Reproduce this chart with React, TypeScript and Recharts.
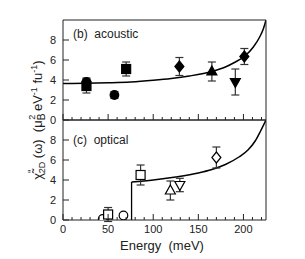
import React from "react";
import { ComposedChart, Scatter, Line, XAxis, YAxis, ErrorBar } from "recharts";

const FONT = '"Liberation Sans", Arial, sans-serif';

// x ticks every 10 meV, labelled every 50
const X_TICKS = [0, 10, 20, 30, 40, 50, 60, 70, 80, 90, 100, 110, 120, 130, 140, 150, 160, 170, 180, 190, 200, 210, 220];
const X_LABELLED = [0, 50, 100, 150, 200];
const Y_TICKS = [0, 2, 4, 6, 8];

// (b) acoustic - filled symbols
const acCircle = [
  { e: 26, v: 3.8, err: 0.4 },
  { e: 57, v: 2.5, err: 0.35 },
];
const acSquare = [
  { e: 26, v: 3.4, err: 0.7 },
  { e: 70, v: 5.1, err: 0.7 },
];
const acDiamond = [
  { e: 129, v: 5.35, err: 0.9 },
  { e: 201, v: 6.35, err: 0.8 },
];
const acTriUp = [{ e: 165, v: 4.85, err: 0.95 }];
const acTriDown = [{ e: 191, v: 3.8, err: 1.3 }];
const acCurve = [
  { e: 0, v: 3.65 }, { e: 25, v: 3.67 }, { e: 50, v: 3.72 }, { e: 75, v: 3.8 },
  { e: 100, v: 3.97 }, { e: 120, v: 4.15 }, { e: 140, v: 4.4 }, { e: 165, v: 4.85 },
  { e: 180, v: 5.3 }, { e: 190, v: 5.75 }, { e: 201, v: 6.35 }, { e: 211, v: 7.3 },
  { e: 218, v: 8.3 }, { e: 222, v: 9.1 }, { e: 225, v: 10 },
];

// (c) optical - open symbols
const opCircle = [
  { e: 44, v: 0.1, err: 0 },
  { e: 67, v: 0.45, err: 0 },
];
const opSquare = [
  { e: 50, v: 0.55, err: 0.7 },
  { e: 86, v: 4.5, err: 1.0 },
];
const opTriUp = [{ e: 119, v: 2.95, err: 0.95 }];
const opTriDown = [{ e: 129.5, v: 3.5, err: 0.67 }];
const opDiamond = [{ e: 170, v: 6.25, err: 1.05 }];
const opStep = [{ e: 76, v: 0 }, { e: 76, v: 3.8 }];
const opCurve = [
  { e: 76, v: 3.8 }, { e: 100, v: 4.0 }, { e: 125, v: 4.3 }, { e: 150, v: 4.7 },
  { e: 165, v: 5.05 }, { e: 180, v: 5.55 }, { e: 195, v: 6.3 }, { e: 205, v: 7.0 },
  { e: 213, v: 7.9 }, { e: 219, v: 8.9 }, { e: 225, v: 10 },
];

const marker = (kind: string, filled: boolean) => (p: any) => {
  const { cx, cy } = p;
  const fill = filled ? "#000" : "#fff";
  const common = { fill, stroke: "#000", strokeWidth: 1.2 };
  if (kind === "circle") return <circle cx={cx} cy={cy} r={4.3} {...common} />;
  if (kind === "square") return <rect x={cx - 4.5} y={cy - 4.5} width={9} height={9} {...common} />;
  if (kind === "diamond")
    return <polygon points={`${cx},${cy - 5.5} ${cx + 4.5},${cy} ${cx},${cy + 5.5} ${cx - 4.5},${cy}`} {...common} />;
  if (kind === "up")
    return <polygon points={`${cx},${cy - 5.5} ${cx + 5},${cy + 3.5} ${cx - 5},${cy + 3.5}`} {...common} />;
  return <polygon points={`${cx},${cy + 5.5} ${cx + 5},${cy - 3.5} ${cx - 5},${cy - 3.5}`} {...common} />;
};

const AX = "#222";
const txt = { fontSize: 11, fill: AX, fontFamily: FONT, stroke: "none" };

// inward ticks, drawn from the axis positions recharts hands over
const xTick = (dir: number, labels: boolean) => (p: any) => {
  const { x, y, payload } = p;
  const major = X_LABELLED.includes(payload.value);
  return (
    <g>
      <line x1={x} x2={x} y1={y} y2={y + dir * (major ? 6 : 3)} stroke={AX} strokeWidth={1} />
      {labels && major && (
        <text x={x} y={y + 13} textAnchor="middle" {...txt}>{payload.value}</text>
      )}
    </g>
  );
};

const yTick = (p: any) => {
  const { x, y, payload } = p;
  return (
    <g>
      <line x1={x} x2={x + 6} y1={y} y2={y} stroke={AX} strokeWidth={1} />
      <text x={x - 7} y={y + 4} textAnchor="end" {...txt}>{payload.value}</text>
    </g>
  );
};

const blank = () => <g />;

function frame(labels: boolean) {
  return [
    <XAxis key="x" xAxisId="x" dataKey="e" type="number" domain={[0, 225]} ticks={X_TICKS}
      interval={0} height={1} tickSize={0} tickMargin={0} tickLine={false} stroke={AX}
      tick={xTick(-1, labels)} allowDataOverflow />,
    <XAxis key="xt" xAxisId="xt" orientation="top" type="number" domain={[0, 225]} ticks={X_TICKS}
      interval={0} height={1} tickSize={0} tickMargin={0} tickLine={false} stroke={AX}
      tick={xTick(1, false)} allowDataOverflow />,
    <YAxis key="y" yAxisId="y" dataKey="v" type="number" domain={[0, 10]} ticks={Y_TICKS}
      interval={0} width={1} tickSize={0} tickMargin={0} tickLine={false} stroke={AX}
      tick={yTick} allowDataOverflow />,
    <YAxis key="yr" yAxisId="yr" orientation="right" type="number" domain={[0, 10]} ticks={[0]}
      width={1} tickLine={false} stroke={AX} tick={blank} />,
  ];
}

const errProps = { dataKey: "err", direction: "y" as const, width: 4, stroke: "#333", strokeWidth: 1.2 };

function series(data: any[], kind: string, filled: boolean, key: string) {
  return (
    <Scatter key={key} data={data} xAxisId="x" yAxisId="y" shape={marker(kind, filled)} isAnimationActive={false}>
      <ErrorBar {...errProps} />
    </Scatter>
  );
}

export default function App() {
  return (
    <div style={{ position: "absolute", left: 0, top: 0, width: 305, height: 259, background: "#fff" }}>
      <div style={{ position: "absolute", left: 0, top: 0 }}>
        <ComposedChart width={305} height={130} margin={{ top: 19, right: 38, bottom: 9, left: 62 }}>
          {frame(false)}
          <Line data={acCurve} dataKey="v" xAxisId="x" yAxisId="y" type="monotone" dot={false}
            stroke="#000" strokeWidth={1.5} isAnimationActive={false} />
          {series(acCircle, "circle", true, "a1")}
          {series(acSquare, "square", true, "a2")}
          {series(acDiamond, "diamond", true, "a3")}
          {series(acTriUp, "up", true, "a4")}
          {series(acTriDown, "down", true, "a5")}
        </ComposedChart>
      </div>
      <div style={{ position: "absolute", left: 0, top: 100 }}>
        <ComposedChart width={305} height={159} margin={{ top: 19, right: 38, bottom: 38, left: 62 }}>
          {frame(true)}
          <Line data={opStep} dataKey="v" xAxisId="x" yAxisId="y" type="linear" dot={false}
            stroke="#000" strokeWidth={1.3} isAnimationActive={false} />
          <Line data={opCurve} dataKey="v" xAxisId="x" yAxisId="y" type="monotone" dot={false}
            stroke="#000" strokeWidth={1.5} isAnimationActive={false} />
          {series(opCircle, "circle", false, "o1")}
          {series(opSquare, "square", false, "o2")}
          {series(opTriUp, "up", false, "o3")}
          {series(opTriDown, "down", false, "o4")}
          {series(opDiamond, "diamond", false, "o5")}
        </ComposedChart>
      </div>
      <svg width={305} height={259} style={{ position: "absolute", left: 0, top: 0, pointerEvents: "none" }}>
        <g fontFamily={FONT} fill={AX}>
          <text x={73} y={38} fontSize={12}>{"(b)\u00a0 acoustic"}</text>
          <text x={73} y={144} fontSize={12}>{"(c)\u00a0 optical"}</text>
          <text x={162} y={250} fontSize={13} textAnchor="middle">{"Energy\u00a0 (meV)"}</text>
          <text transform="rotate(-90)" x={-120} y={42} fontSize={13} textAnchor="middle">
            {"\u03c7\u0303"}
            <tspan fontSize={10} dy={-6}>{"\""}</tspan>
            <tspan fontSize={9} dx={-4} dy={9}>{"2D"}</tspan>
            <tspan dy={-3}>{" (\u03c9)\u00a0 (\u03bc"}</tspan>
            <tspan fontSize={10} dy={3}>{"B"}</tspan>
            <tspan fontSize={9} dx={-6} dy={-10}>{"2"}</tspan>
            <tspan dy={7}>{" eV"}</tspan>
            <tspan fontSize={9} dy={-5}>{"-1"}</tspan>
            <tspan dy={5}>{" fu"}</tspan>
            <tspan fontSize={9} dy={-5}>{"-1"}</tspan>
            <tspan dy={5}>{")"}</tspan>
          </text>
        </g>
      </svg>
    </div>
  );
}
